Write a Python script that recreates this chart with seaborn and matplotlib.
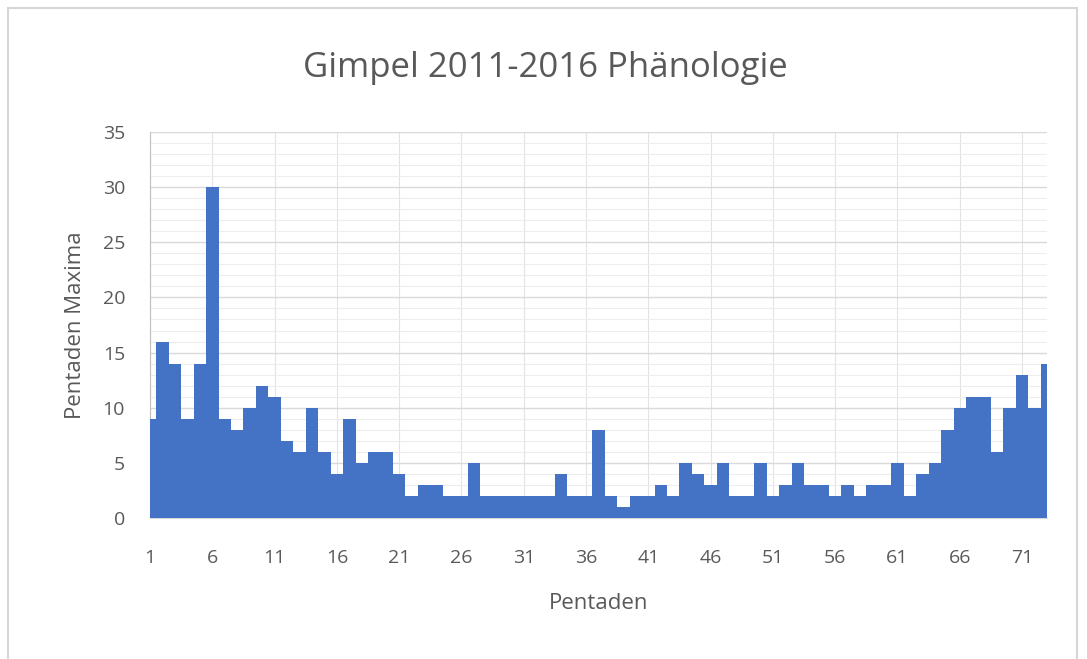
import matplotlib
matplotlib.use("Agg")
import matplotlib.pyplot as plt
import seaborn as sns
import pandas as pd
from matplotlib.ticker import MultipleLocator
from matplotlib.patches import Rectangle

# Pentaden 1..73 and their maxima
pentaden = list(range(1, 74))
maxima = [9, 16, 14, 9, 14, 30, 9, 8, 10, 12,
          11, 7, 6, 10, 6, 4, 9, 5, 6, 6,
          4, 2, 3, 3, 2, 2, 5, 2, 2, 2,
          2, 2, 2, 4, 2, 2, 8, 2, 1, 2,
          2, 3, 2, 5, 4, 3, 5, 2, 2, 5,
          2, 3, 5, 3, 3, 2, 3, 2, 3, 3,
          5, 2, 4, 5, 8, 10, 11, 11, 6, 10,
          13, 10, 14]
tick_labels = [str(p) for p in pentaden[::5]]

df = pd.DataFrame({"Pentade": pentaden, "Maxima": maxima})

sns.set_style("white")
plt.rcParams['font.family'] = ['Open Sans', 'DejaVu Sans']
grey = "#595959"

fig = plt.figure(figsize=(10.87, 6.59), dpi=100)
ax = fig.add_axes([150 / 1087, 1 - 518 / 659, 897 / 1087, 386 / 659])

sns.barplot(data=df, x="Pentade", y="Maxima", order=pentaden,
            color="#4472C4", saturation=1, width=1.0, errorbar=None,
            linewidth=0, ax=ax, zorder=3)

# Axes ranges and ticks
ax.set_xlim(0, 72)
ax.set_ylim(0, 35)
ax.set_xticks(range(0, 73, 5))
ax.set_xticklabels(tick_labels)
ax.yaxis.set_major_locator(MultipleLocator(5))
ax.yaxis.set_minor_locator(MultipleLocator(1))

# Excel-like gridlines
ax.grid(axis="y", which="major", color="#D9D9D9", linewidth=1.0, zorder=0)
ax.grid(axis="y", which="minor", color="#EDEDED", linewidth=0.8, zorder=0)
ax.grid(axis="x", which="major", color="#E3E3E3", linewidth=0.8, zorder=0)
ax.set_axisbelow(True)

for side in ["top", "right"]:
    ax.spines[side].set_visible(False)
ax.spines["left"].set_color("#BFBFBF")
ax.spines["bottom"].set_color("#D9D9D9")

ax.tick_params(axis="y", which="major", direction="out", length=7,
               color="#BFBFBF", labelsize=14, labelcolor=grey, pad=11)
ax.tick_params(axis="y", which="minor", length=0)
ax.tick_params(axis="x", length=0, labelsize=14, labelcolor=grey, pad=22)

ax.set_xlabel("Pentaden", fontsize=16, color=grey, labelpad=19)
ax.set_ylabel("Pentaden Maxima", fontsize=16, color=grey, labelpad=12)
fig.text(545 / 1087, 1 - 77 / 659, "Gimpel 2011-2016 Phänologie",
         ha="center", va="baseline", fontsize=25, color=grey)

# chart area border
fig.patches.append(Rectangle((8 / 1087, -0.01), 1069 / 1087, 1 - 8 / 659 + 0.01,
                             transform=fig.transFigure, fill=False,
                             edgecolor="#D6D6D6", linewidth=1.5))

fig.savefig("out.png", dpi=100)
